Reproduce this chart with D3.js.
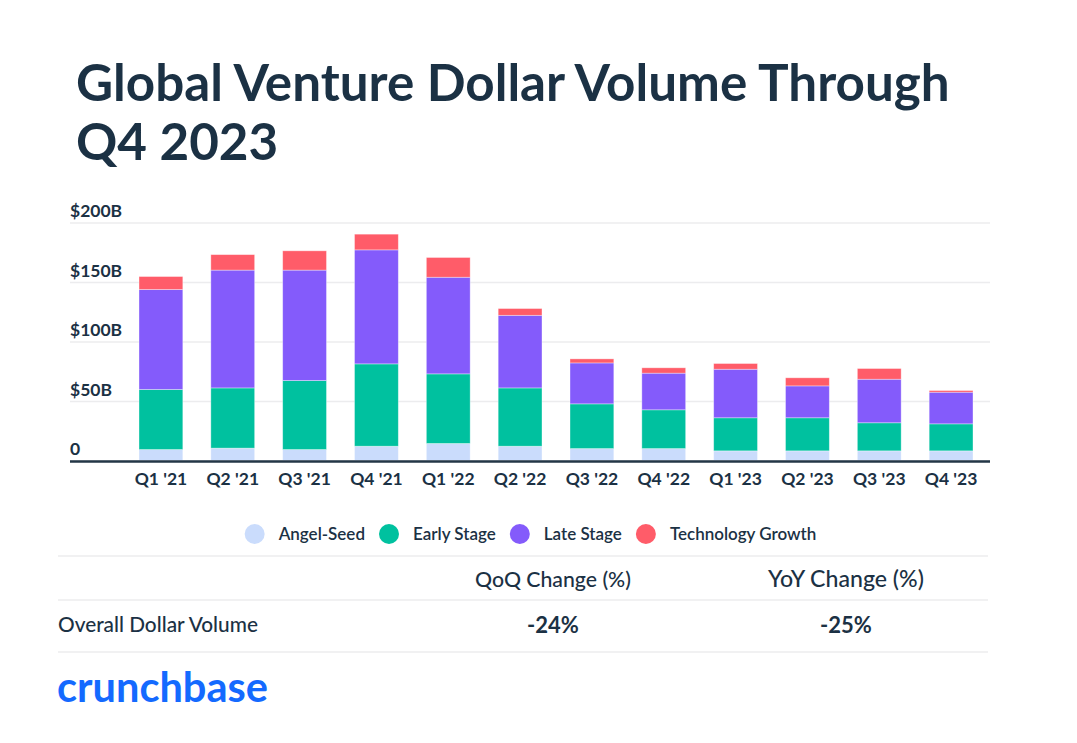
<!DOCTYPE html>
<html lang="en">
  <head>
    <meta charset="UTF-8" />
    <title>Global Venture Dollar Volume Through Q4 2023</title>
    <style>
      body { margin: 0; background: #fff; }
      svg text { font-family: Lato, "Noto Sans", sans-serif; fill: #1b3144; }
    </style>
  </head>
  <body>
    <svg id="chart" width="1077" height="743"></svg>

    <script src="https://d3js.org/d3.v7.min.js"></script>
    <script>
      // values in $B
      const quarters = ["Q1 '21", "Q2 '21", "Q3 '21", "Q4 '21", "Q1 '22", "Q2 '22",
                        "Q3 '22", "Q4 '22", "Q1 '23", "Q2 '23", "Q3 '23", "Q4 '23"];
      const angelSeed = [9.2, 10.4, 9.2, 12.0, 14.3, 12.0, 10.0, 10.0, 8.1, 8.1, 8.1, 8.1];
      const earlyStage = [50.5, 50.6, 58.0, 69.2, 58.5, 49.0, 37.6, 32.6, 27.8, 27.8, 23.6, 22.7];
      const lateStage = [84.0, 99.0, 92.8, 95.8, 81.2, 61.0, 34.4, 30.8, 40.8, 26.8, 36.6, 26.6];
      const techGrowth = [10.9, 13.0, 16.2, 13.2, 16.6, 5.7, 3.4, 4.5, 4.8, 6.8, 9.0, 1.4];

      const seriesNames = ["Angel-Seed", "Early Stage", "Late Stage", "Technology Growth"];
      const seriesColors = ["#cadcfc", "#00c19f", "#845bfb", "#ff5c69"];
      const yTicks = [0, 50, 100, 150, 200];

      const tableHeaders = ["QoQ Change (%)", "YoY Change (%)"];
      const tableRowLabel = "Overall Dollar Volume";
      const tableValues = ["-24%", "-25%"];

      const svg = d3.select("#chart");

      // scale a text's font size so it spans the given width
      function fitWidth(sel, size, width) {
        const w = sel.node().getComputedTextLength();
        sel.style("font-size", (size * width / w) + "px");
        return size * width / w;
      }

      // title
      const title = svg.append("text")
        .attr("x", 76)
        .attr("y", 101)
        .style("font-weight", 700)
        .style("font-size", "50px")
        .text("Global Venture Dollar Volume Through");
      const titleSize = fitWidth(title, 50, 874);
      svg.append("text")
        .attr("x", 76)
        .attr("y", 160)
        .style("font-weight", 700)
        .style("font-size", titleSize + "px")
        .text("Q4 2023");

      // stacked data
      const rows = quarters.map((q, i) => ({
        quarter: q,
        "Angel-Seed": angelSeed[i],
        "Early Stage": earlyStage[i],
        "Late Stage": lateStage[i],
        "Technology Growth": techGrowth[i]
      }));
      const stacked = d3.stack().keys(seriesNames)(rows);

      const x = d3.scaleBand()
        .domain(quarters)
        .range([125, 987])
        .paddingInner(0.39)
        .paddingOuter(0.195);

      const y = d3.scaleLinear()
        .domain([0, 200])
        .range([460.5, 222.5]);

      // gridlines + labels
      const yAxis = svg.append("g")
        .attr("transform", "translate(70,0)")
        .call(d3.axisRight(y).tickValues(yTicks).tickSize(920)
          .tickFormat(d => d === 0 ? "0" : `$${d}B`));
      yAxis.select(".domain").remove();
      yAxis.selectAll(".tick line").attr("stroke", "#ececee").attr("stroke-width", 1.5);
      yAxis.selectAll(".tick text")
        .attr("x", 0)
        .attr("dy", -6)
        .attr("text-anchor", "start")
        .style("font-size", "17.5px")
        .style("font-weight", 700)
        .style("font-family", "Lato, sans-serif");

      // bars
      svg.append("g")
        .selectAll("g")
        .data(stacked)
        .enter()
        .append("g")
        .attr("fill", (d, i) => seriesColors[i])
        .selectAll("rect")
        .data(d => d)
        .enter()
        .append("rect")
        .attr("x", d => x(d.data.quarter))
        .attr("y", d => y(d[1]))
        .attr("width", x.bandwidth())
        .attr("height", d => y(d[0]) - y(d[1]))
        .attr("stroke", "#fff")
        .attr("stroke-opacity", 0.45)
        .attr("stroke-width", 0.8);

      // baseline
      svg.append("line")
        .attr("x1", 70)
        .attr("x2", 990)
        .attr("y1", 461.5)
        .attr("y2", 461.5)
        .attr("stroke", "#233646")
        .attr("stroke-width", 2.5);

      // x labels
      const xAxis = svg.append("g")
        .attr("transform", "translate(0,462)")
        .call(d3.axisBottom(x).tickSize(0).tickPadding(0));
      xAxis.select(".domain").remove();
      xAxis.selectAll(".tick text")
        .attr("y", 23)
        .attr("dy", 0)
        .style("font-size", "17.5px")
        .style("font-weight", 700)
        .style("font-family", "Lato, sans-serif");

      // legend
      const legend = svg.append("g");
      let lx = 0;
      seriesNames.forEach((name, i) => {
        const item = legend.append("g").attr("transform", `translate(${lx},0)`);
        item.append("circle")
          .attr("cx", 10)
          .attr("cy", 0)
          .attr("r", 10)
          .attr("fill", seriesColors[i]);
        const t = item.append("text")
          .attr("x", 34)
          .attr("y", 6)
          .style("font-size", "17px")
          .style("font-weight", 600)
          .text(name);
        lx += 34 + t.node().getComputedTextLength() + 14;
      });
      legend.attr("transform", `translate(${248 + (565 - (lx - 14)) / 2},534)`);

      // table
      const lineYs = [556, 600, 652];
      svg.append("g")
        .selectAll("line")
        .data(lineYs)
        .enter()
        .append("line")
        .attr("x1", 58)
        .attr("x2", 988)
        .attr("y1", d => d)
        .attr("y2", d => d)
        .attr("stroke", "#ececee")
        .attr("stroke-width", 1.5);

      const colX = [553, 846];
      svg.append("g")
        .selectAll("text")
        .data(tableHeaders)
        .enter()
        .append("text")
        .attr("x", (d, i) => colX[i])
        .attr("y", 587)
        .attr("text-anchor", "middle")
        .style("font-size", "20px")
        .style("font-weight", 500)
        .each(function (d) {
          const t = d3.select(this).text(d);
          fitWidth(t, 20, 156);
        });

      const rowLabel = svg.append("text")
        .attr("x", 58)
        .attr("y", 632)
        .style("font-size", "20px")
        .style("font-weight", 500)
        .text(tableRowLabel);
      fitWidth(rowLabel, 20, 200);

      svg.append("g")
        .selectAll("text")
        .data(tableValues)
        .enter()
        .append("text")
        .attr("x", (d, i) => colX[i])
        .attr("y", 633)
        .attr("text-anchor", "middle")
        .style("font-size", "22px")
        .style("font-weight", 700)
        .text(d => d);

      // logo
      const logo = svg.append("text")
        .attr("x", 57)
        .attr("y", 702)
        .style("font-size", "34px")
        .style("font-weight", 700)
        .style("font-family", "Lato, sans-serif")
        .style("fill", "#146aff")
        .text("crunchbase");
      fitWidth(logo, 34, 211);
    </script>
  </body>
</html>
